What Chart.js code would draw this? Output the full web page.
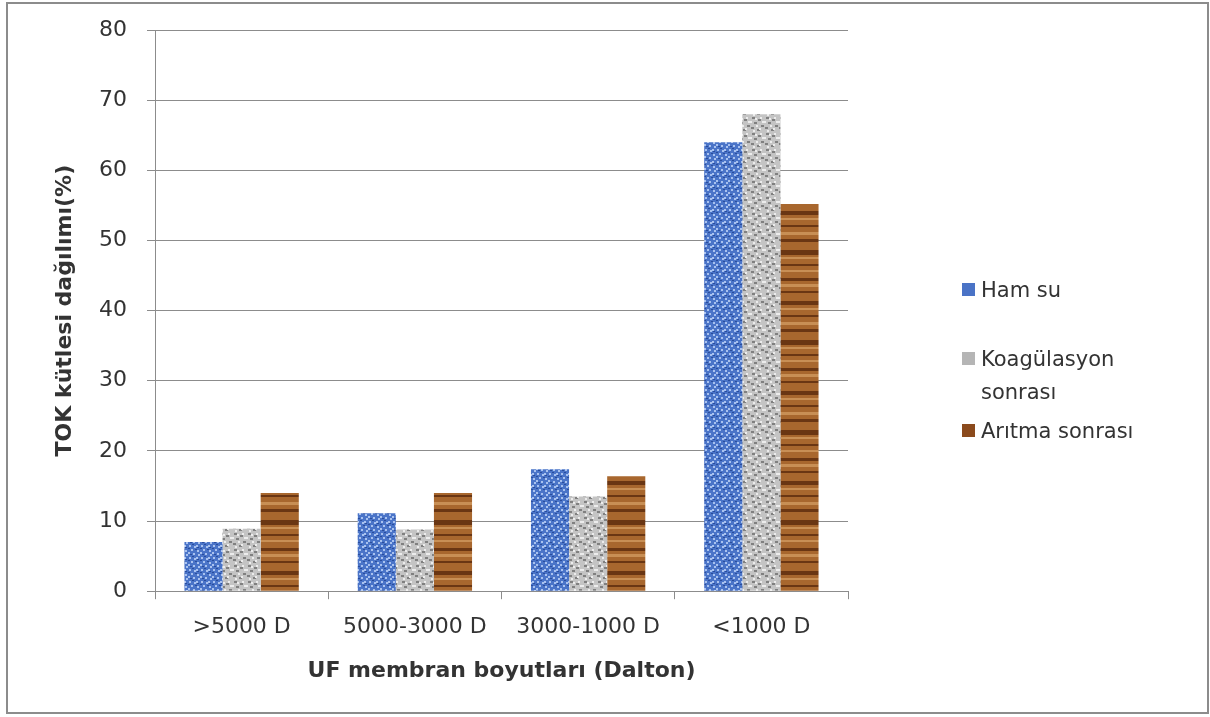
<!DOCTYPE html>
<html>
<head>
<meta charset="utf-8">
<script src="https://cdn.jsdelivr.net/npm/chart.js@4"></script>
<style>
  body { margin: 0; background: #fff; font-family: "DejaVu Sans", sans-serif; }
  #frame { position: absolute; left: 6px; top: 2px; width: 1199px; height: 708px; border: 2px solid #8c8c8c; }
  #legend { position: absolute; left: 962px; top: 274px; font-size: 21px; color: #333; }
  .item { display: flex; align-items: flex-start; }
  .sw { width: 13px; height: 13px; margin: 9px 6px 0 0; flex: none; }
</style>
</head>
<body>
<div id="frame"><canvas id="chart"></canvas></div>
<div id="legend"></div>
<script>
const categories = [">5000 D", "5000-3000 D", "3000-1000 D", "<1000 D"];
const hamSu = [7.0, 11.1, 17.4, 64.0];
const koagulasyon = [8.9, 8.8, 13.5, 68.0];
const aritma = [14.0, 14.0, 16.4, 55.2];
const seriesNames = ["Ham su", ["Koagülasyon", "sonrası"], "Arıtma sonrası"];

// small textured fills, drawn the same way each time
function makePattern(kind) {
    const c = document.createElement("canvas");
    const ctx = c.getContext("2d");
    if (kind === "blue") {
        c.width = 12; c.height = 12;
        ctx.fillStyle = "#4a74c8";
        ctx.fillRect(0, 0, 12, 12);
        ctx.fillStyle = "#a9c2ef";
        [[1,1],[6,2],[3,5],[9,6],[0,8],[5,9],[10,10],[8,1]].forEach(p => ctx.fillRect(p[0], p[1], 2, 2));
        ctx.fillStyle = "#2a4d9c";
        [[4,0],[0,4],[7,5],[2,10],[9,3]].forEach(p => ctx.fillRect(p[0], p[1], 2, 1));
    } else if (kind === "gray") {
        c.width = 14; c.height = 16;
        ctx.fillStyle = "#c4c4c4";
        ctx.fillRect(0, 0, 14, 16);
        ctx.fillStyle = "#808080";
        [[2,1],[8,3],[4,6],[11,9],[1,11],[7,13]].forEach(p => ctx.fillRect(p[0], p[1], 3, 2));
        ctx.fillStyle = "#ececec";
        [[5,2],[0,5],[10,1],[9,12],[3,14],[12,5],[6,9]].forEach(p => ctx.fillRect(p[0], p[1], 2, 2));
    } else {
        c.width = 8; c.height = 90;
        ctx.fillStyle = "#a8672e";
        ctx.fillRect(0, 0, 8, 90);
        ctx.fillStyle = "#6a3613";
        [[4,3],[17,2],[27,4],[41,2],[55,3],[66,5],[80,2]].forEach(b => ctx.fillRect(0, b[0], 8, b[1]));
        ctx.fillStyle = "#c88f55";
        [[10,3],[34,2],[48,3],[73,2],[86,2]].forEach(b => ctx.fillRect(0, b[0], 8, b[1]));
    }
    return document.createElement("canvas").getContext("2d").createPattern(c, "repeat");
}

const fills = [makePattern("blue"), makePattern("gray"), makePattern("brown")];
const swatchColors = ["#4a73c6", "#b5b5b5", "#8b4a1c"];

const legend = document.getElementById("legend");
seriesNames.forEach((name, i) => {
    const item = document.createElement("div");
    item.className = "item";
    item.style.marginBottom = i === 0 ? "36px" : "6px";
    const lines = Array.isArray(name) ? name.join("<br>") : name;
    item.innerHTML = `<span class="sw" style="background:${swatchColors[i]}"></span><span style="line-height:33px">${lines}</span>`;
    legend.appendChild(item);
});

new Chart(document.getElementById("chart"), {
    type: "bar",
    data: {
        labels: categories,
        datasets: [
            { label: "Ham su", data: hamSu, backgroundColor: fills[0] },
            { label: "Koagülasyon sonrası", data: koagulasyon, backgroundColor: fills[1] },
            { label: "Arıtma sonrası", data: aritma, backgroundColor: fills[2] }
        ]
    },
    options: {
        responsive: true,
        maintainAspectRatio: false,
        animation: false,
        layout: { padding: { top: 26, right: 359, bottom: 24, left: 40 } },
        datasets: { bar: { categoryPercentage: 0.66, barPercentage: 1 } },
        plugins: { legend: { display: false }, tooltip: { enabled: false } },
        scales: {
            x: {
                grid: { drawOnChartArea: false, drawTicks: true, tickLength: 8, color: "#8c8c8c" },
                border: { color: "#8c8c8c" },
                ticks: { color: "#333", font: { family: "DejaVu Sans", size: 22 }, padding: 15, maxRotation: 0 },
                title: { display: true, text: "UF membran boyutları (Dalton)", color: "#333",
                         font: { family: "DejaVu Sans", size: 22, weight: "bold" }, padding: { top: 2 } }
            },
            y: {
                min: 0, max: 80,
                afterFit: s => { s.width = 107; s.paddingTop = 0; s.paddingBottom = 0; },
                ticks: { stepSize: 10, color: "#333", font: { family: "DejaVu Sans", size: 22 }, padding: 20 },
                grid: { color: "#8c8c8c", tickLength: 8 },
                border: { color: "#8c8c8c" },
                title: { display: true, text: "TOK kütlesi dağılımı(%)", color: "#333",
                         font: { family: "DejaVu Sans", size: 22, weight: "bold" }, padding: { top: 4 } }
            }
        }
    }
});
</script>
</body>
</html>
